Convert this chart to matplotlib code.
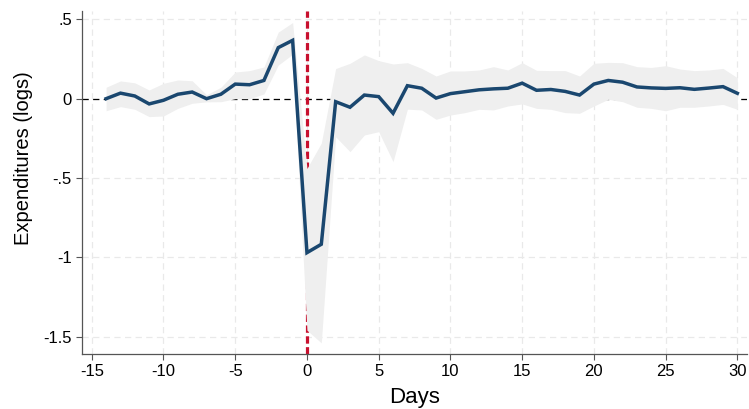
import numpy as np
import matplotlib
matplotlib.use('Agg')
import matplotlib.pyplot as plt

plt.rcParams['font.family'] = ['Liberation Sans', 'DejaVu Sans']
plt.rcParams['axes.unicode_minus'] = False

# event-study estimates, days relative to the event
days = np.arange(-14, 31)
coef = [0.000, 0.035, 0.017, -0.033, -0.010, 0.028, 0.042, 0.000, 0.028,
        0.092, 0.088, 0.115, 0.322, 0.368, -0.971, -0.918, -0.019, -0.054,
        0.023, 0.013, -0.092, 0.082, 0.066, 0.004, 0.032, 0.044, 0.056,
        0.062, 0.066, 0.098, 0.053, 0.058, 0.046, 0.023, 0.092, 0.115,
        0.104, 0.074, 0.068, 0.065, 0.069, 0.059, 0.067, 0.076, 0.034]
ci_hi = [0.072, 0.112, 0.100, 0.055, 0.097, 0.118, 0.113, 0.025, 0.072,
         0.168, 0.177, 0.200, 0.420, 0.480, -0.440, -0.280, 0.190, 0.223,
         0.276, 0.240, 0.219, 0.227, 0.191, 0.143, 0.175, 0.175, 0.181,
         0.202, 0.181, 0.227, 0.179, 0.177, 0.177, 0.143, 0.223, 0.229,
         0.227, 0.202, 0.197, 0.208, 0.187, 0.177, 0.181, 0.191, 0.132]
ci_lo = [-0.076, -0.050, -0.067, -0.113, -0.109, -0.061, -0.029, -0.020,
         -0.019, 0.000, 0.000, 0.030, 0.212, 0.280, -1.460, -1.540, -0.240,
         -0.334, -0.229, -0.208, -0.397, -0.066, -0.071, -0.130, -0.103,
         -0.088, -0.067, -0.071, -0.046, -0.033, -0.061, -0.067, -0.088,
         -0.092, -0.046, -0.004, -0.019, -0.054, -0.061, -0.076, -0.054,
         -0.054, -0.046, -0.036, -0.067]

xticks = np.arange(-15, 31, 5)
yticks = [0.5, 0, -0.5, -1, -1.5]
ylabels = ['.5', '0', '-.5', '-1', '-1.5']

fig = plt.figure(figsize=(7.49, 4.09), dpi=100)
ax = fig.add_axes([0.1091, 0.1345, 0.888, 0.8386])

# light dashed grid
for t in xticks:
    ax.axvline(t, color='#e9e9e9', lw=0.9, dashes=(5, 3.5), zorder=0.5)
for t in yticks:
    ax.axhline(t, color='#e9e9e9', lw=0.9, dashes=(5, 3.5), zorder=0.5)

ax.axhline(0, color='black', lw=0.9, dashes=(5, 3.5), zorder=1)
ax.axvline(0, color='#c8102e', lw=2.3, dashes=(2.3, 1.1), zorder=1.5)

ax.fill_between(days, ci_lo, ci_hi, color='#efefef', lw=0, zorder=2)
ax.plot(days, coef, color='#1a476f', lw=2.5, zorder=3,
        solid_joinstyle='miter')

ax.set_xlim(-15.7, 30.66)
ax.set_ylim(-1.61, 0.553)
ax.set_xticks(xticks)
ax.set_yticks(yticks)
ax.set_yticklabels(ylabels)

for s in ['top', 'right']:
    ax.spines[s].set_visible(False)
for s in ['left', 'bottom']:
    ax.spines[s].set_color('#555555')
    ax.spines[s].set_linewidth(0.9)
ax.tick_params(direction='out', length=4, width=0.8, color='#555555',
               labelsize=12, pad=3)

ax.set_xlabel('Days', fontsize=16)
ax.set_ylabel('Expenditures (logs)', fontsize=14.5)
ax.xaxis.set_label_coords(0.5, -0.095)
ax.yaxis.set_label_coords(-0.073, 0.57)

fig.savefig('out.png', dpi=100)
